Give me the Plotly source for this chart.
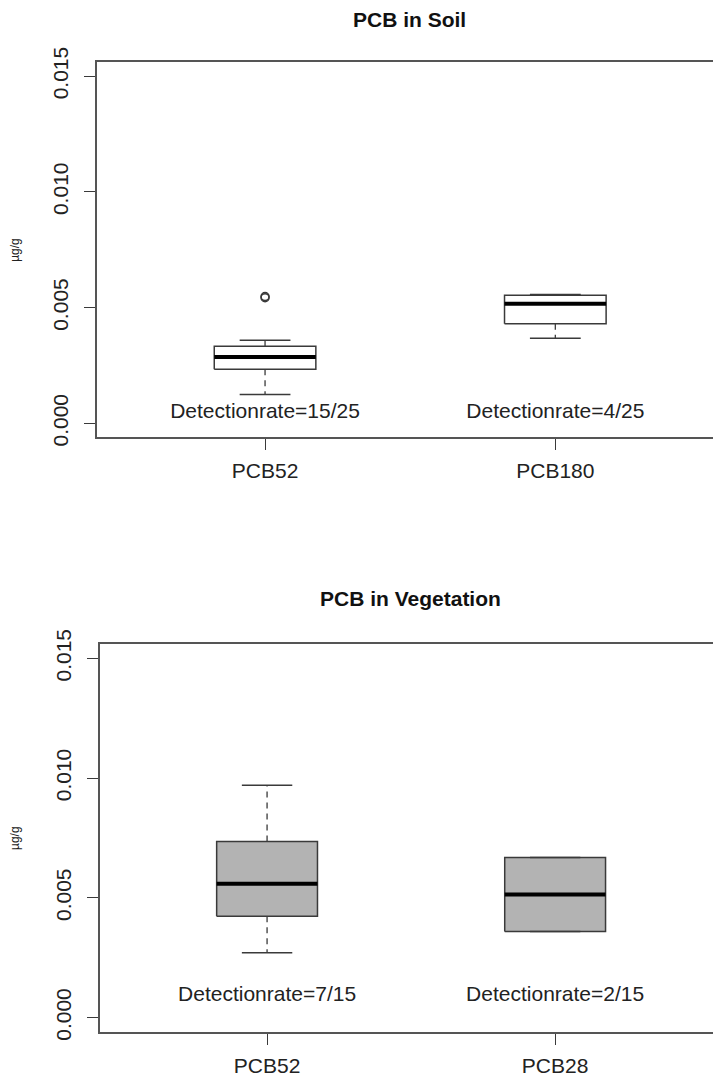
import plotly.graph_objects as go

# ---------------- data ----------------
soil_names = ["PCB52", "PCB180"]
soil_lower = [0.00125, 0.00368]
soil_q1 = [0.00234, 0.00431]
soil_median = [0.00287, 0.00517]
soil_q3 = [0.00333, 0.00554]
soil_upper = [0.00359, 0.00557]
soil_outliers = [[0.00543, 0.00548], []]
soil_rates = ["Detectionrate=15/25", "Detectionrate=4/25"]

veg_names = ["PCB52", "PCB28"]
veg_lower = [0.00271, 0.00360]
veg_q1 = [0.00423, 0.00360]
veg_median = [0.00559, 0.00514]
veg_q3 = [0.00735, 0.00669]
veg_upper = [0.00970, 0.00669]
veg_outliers = [[], []]
veg_rates = ["Detectionrate=7/15", "Detectionrate=2/15"]

y_ticks = [0.000, 0.005, 0.010, 0.015]
y_tick_text = ["0.000", "0.005", "0.010", "0.015"]

# ---------------- styling ----------------
FONT = "Liberation Sans, Arial, Helvetica, sans-serif"
W, H = 713, 1080
BOX_W = 0.35
LINE_C = "#3a3a3a"
FRAME_C = "#555555"

fig = go.Figure()


def add_boxes(xa, ya, names, lower, q1, med, q3, upper, outl, fill):
    for i in range(len(names)):
        c = i + 1
        h = BOX_W / 2
        # whiskers (dashed)
        fig.add_trace(go.Scatter(x=[c, c], y=[q3[i], upper[i]], mode="lines",
                                 line=dict(color=LINE_C, width=1.3, dash="6px,5px"),
                                 xaxis=xa, yaxis=ya, showlegend=False, hoverinfo="skip"))
        fig.add_trace(go.Scatter(x=[c, c], y=[q1[i], lower[i]], mode="lines",
                                 line=dict(color=LINE_C, width=1.3, dash="6px,5px"),
                                 xaxis=xa, yaxis=ya, showlegend=False, hoverinfo="skip"))
        # box
        fig.add_trace(go.Scatter(x=[c - h, c + h, c + h, c - h, c - h],
                                 y=[q1[i], q1[i], q3[i], q3[i], q1[i]],
                                 mode="lines", fill="toself", fillcolor=fill,
                                 line=dict(color=LINE_C, width=1.5),
                                 xaxis=xa, yaxis=ya, showlegend=False, hoverinfo="skip"))
        # caps
        for v in (upper[i], lower[i]):
            fig.add_trace(go.Scatter(x=[c - h / 2, c + h / 2], y=[v, v], mode="lines",
                                     line=dict(color=LINE_C, width=1.5),
                                     xaxis=xa, yaxis=ya, showlegend=False, hoverinfo="skip"))
        # median
        fig.add_trace(go.Scatter(x=[c - h, c + h], y=[med[i], med[i]], mode="lines",
                                 line=dict(color="black", width=4),
                                 xaxis=xa, yaxis=ya, showlegend=False, hoverinfo="skip"))
        # outliers
        if outl[i]:
            fig.add_trace(go.Scatter(x=[c] * len(outl[i]), y=outl[i], mode="markers",
                                     marker=dict(symbol="circle-open", size=8,
                                                 color=LINE_C, line=dict(width=1.5)),
                                     xaxis=xa, yaxis=ya, showlegend=False, hoverinfo="skip"))


add_boxes("x", "y", soil_names, soil_lower, soil_q1, soil_median, soil_q3,
          soil_upper, soil_outliers, "white")
add_boxes("x2", "y2", veg_names, veg_lower, veg_q1, veg_median, veg_q3,
          veg_upper, veg_outliers, "#B3B3B3")

# detection-rate texts placed in data coordinates
for i, t in enumerate(soil_rates):
    fig.add_trace(go.Scatter(x=[i + 1], y=[0.00045], mode="text", text=[t],
                             textfont=dict(family=FONT, size=21, color="#222222"),
                             textposition="middle center", xaxis="x", yaxis="y",
                             showlegend=False, hoverinfo="skip"))
for i, t in enumerate(veg_rates):
    fig.add_trace(go.Scatter(x=[i + 1], y=[0.00093], mode="text", text=[t],
                             textfont=dict(family=FONT, size=21, color="#222222"),
                             textposition="middle center", xaxis="x2", yaxis="y2",
                             showlegend=False, hoverinfo="skip"))

# pixel geometry of the two panels
top_left, top_top, top_bot = 96.7, 62.3, 437.3
bot_left, bot_top, bot_bot = 100.0, 644.0, 1032.0
top_ppu = 290.3
bot_ppu = 288.3

axis_common = dict(showgrid=False, zeroline=False, showline=True, linecolor=FRAME_C,
                   linewidth=1.5, ticks="outside", ticklen=11, tickwidth=1.2,
                   automargin=False,
                   tickcolor=LINE_C, tickfont=dict(family=FONT, size=21, color="#222222"))

fig.update_layout(
    width=W, height=H, margin=dict(l=0, r=0, t=0, b=0, pad=0, autoexpand=False),
    plot_bgcolor="white", paper_bgcolor="white",
    xaxis=dict(domain=[top_left / W, 1], anchor="y",
               range=[0.42, 1 + (W - 265.0) / top_ppu], ticklabelstandoff=3,
               tickvals=[1, 2], ticktext=soil_names, mirror=True, **axis_common),
    yaxis=dict(domain=[1 - top_bot / H, 1 - top_top / H], anchor="x",
               range=[-0.0006, 0.0156], tickvals=y_ticks, ticktext=y_tick_text,
               tickangle=-90, ticklabelstandoff=8, **axis_common),
    xaxis2=dict(domain=[bot_left / W, 1], anchor="y2",
                range=[0.42, 1 + (W - 266.7) / bot_ppu], ticklabelstandoff=3,
                tickvals=[1, 2], ticktext=veg_names, mirror=True, **axis_common),
    yaxis2=dict(domain=[1 - bot_bot / H, 1 - bot_top / H], anchor="x2",
                range=[-0.0006, 0.0156], tickvals=y_ticks, ticktext=y_tick_text,
                tickangle=-90, ticklabelstandoff=8, **axis_common),
)

# titles and y-axis labels
fig.add_annotation(text="<b>PCB in Soil</b>", x=(top_left + 723) / 2 / W, y=1 - 19 / H,
                   xref="paper", yref="paper", showarrow=False, xanchor="center",
                   yanchor="middle", font=dict(family=FONT, size=21, color="#111111"))
fig.add_annotation(text="<b>PCB in Vegetation</b>", x=(bot_left + 722) / 2 / W, y=1 - 598 / H,
                   xref="paper", yref="paper", showarrow=False, xanchor="center",
                   yanchor="middle", font=dict(family=FONT, size=21, color="#111111"))
for yc in ((top_top + top_bot) / 2, (bot_top + bot_bot) / 2):
    fig.add_annotation(text="µg/g", x=15 / W, y=1 - yc / H, xref="paper", yref="paper",
                       showarrow=False, textangle=-90, xanchor="center", yanchor="middle",
                       font=dict(family=FONT, size=12, color="#222222"))

fig.write_html("out.html")
